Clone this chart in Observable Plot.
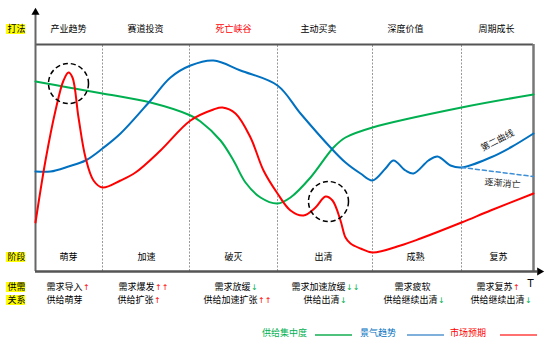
<!DOCTYPE html>
<html><head><meta charset="utf-8">
<script src="https://cdn.jsdelivr.net/npm/d3@7"></script>
<script src="https://cdn.jsdelivr.net/npm/@observablehq/plot@0.6"></script>
<style>
body{margin:0;background:#fff;font-family:"Noto Sans CJK SC",sans-serif;}
#legend{position:relative;width:550px;height:26px;font-size:9px;}
#legend span{position:absolute;top:7px;line-height:12px;}
#legend i{position:absolute;top:14px;height:2px;display:block;}
</style></head>
<body>
<div id="chart"></div>
<div id="legend"></div>
<script>
// time index (t) and index value (v)
const greenT = [0,33,67,115,155,165,185,198,210,225,242,255,275,298,310,337,426,498];
const greenV = [190,184,178,169,156,150,131,111,89,74,68,74,94,124,134,144,164,177];
const blueT = [0,15,33,50,67,85,115,135,155,178,205,242,265,295,310,325,337,350,358,370,378,393,402,415,426,455,475,498];
const blueV = [100,100,105,111,123,138,171,194,206,211,201,186,158,124,109,98,91,103,111,101,98,111,115,106,104,114,124,138];
const fadeT = [426,498];
const fadeV = [104,95];
const redT = [0,10,20,28,33,37,43,50,58,67,85,100,125,155,178,187,200,215,228,242,255,268,280,290,297,305,310,315,325,337,365,385,426,455,498];
const redV = [49,111,161,191,199,194,154,114,91,84,91,99,121,151,162,164,158,134,101,78,61,56,64,75,71,51,34,28,23,19,26,33,49,61,78];

const dividers = [67,154,242,337,426];
const topLabels = ["产业趋势","赛道投资","死亡峡谷","主动买卖","深度价值","周期成长"];
const topX = [33,110,198,283,370,461];
const stageLabels = ["萌芽","加速","破灭","出清","成熟","复苏"];
const stageX = [33,111,198,288,380,463];
const demandLabels = ["需求导入","需求爆发","需求放缓","需求加速放缓","需求疲软","需求复苏"];
const demandEnd = [47,119,215,310,395,477];
const demandArrows = ["↑","↑↑","↓","↓↓","","↑"];
const supplyLabels = ["供给萌芽","供给扩张","供给加速扩张","供给出清","供给继续出清","供给继续出清"];
const supplyEnd = [47,118,222,304,402,489];
const supplyArrows = ["","↑","↑↑","↓","↓","↓"];
const sideLabels = ["打法","阶段","供需","关系"];
const sideV = [242,14,-16,-29];
const circleT = [33,293];
const circleV = [188,70];

const green = "#00b050", blue = "#0070c0", red = "#ff0000";
const font = "Noto Sans CJK SC";
const pts = (T,V) => T.map((t,i)=>({t, v:V[i]}));
const arrowColor = a => a.includes("↑") ? red : green;

const chart = Plot.plot({
  width: 550, height: 320,
  x: {domain:[0,498], range:[35,533]},
  y: {domain:[0,227], range:[271,44]},
  axis: null,
  style: {fontFamily: font, background:"#fff"},
  marks: [
    Plot.ruleX(dividers, {y1:0, y2:227, stroke:"#999", strokeDasharray:"2,1.5", strokeWidth:1}),
    Plot.rect(sideLabels, {x1:-29, x2:-10, y1:(d,i)=>sideV[i]-5, y2:(d,i)=>sideV[i]+5, fill:"#ffff00"}),
    Plot.ruleY([227], {x1:0, x2:498, stroke:"#555", strokeWidth:2}),
    Plot.ruleX([498], {y1:0, y2:227, stroke:"#777", strokeWidth:2.5}),
    Plot.ruleX([0], {y1:0, y2:258, stroke:"#666", strokeWidth:2}),
    Plot.dot([0], {x:0, y:259, symbol:"triangle", fill:"#000", r:3}),
    Plot.ruleY([0], {x1:0, x2:502, stroke:"#555", strokeWidth:2.5}),
    Plot.dot([0], {x:504, y:0, symbol:"triangle", fill:"#000", r:3, rotate:90}),
    Plot.line(pts(greenT,greenV), {x:"t", y:"v", stroke:green, strokeWidth:2, curve:"catmull-rom"}),
    Plot.line(pts(blueT,blueV), {x:"t", y:"v", stroke:blue, strokeWidth:2, curve:"catmull-rom"}),
    Plot.line(pts(fadeT,fadeV), {x:"t", y:"v", stroke:"#3c8fd6", strokeWidth:1.5, strokeDasharray:"4,3"}),
    Plot.line(pts(redT,redV), {x:"t", y:"v", stroke:red, strokeWidth:2, curve:"catmull-rom"}),
    Plot.dot(circleT, {x:d=>d, y:(d,i)=>circleV[i], r:20, stroke:"#000", strokeWidth:1.5, strokeDasharray:"5,3", fill:"none"}),
    Plot.text(topLabels, {x:(d,i)=>topX[i], y:242, text:d=>d, fontSize:9,
      fill:d=>d==="死亡峡谷"?red:"#000", fontWeight:d=>d==="死亡峡谷"?"bold":"normal"}),
    Plot.text(stageLabels, {x:(d,i)=>stageX[i], y:14, text:d=>d, fontSize:9, fill:"#000"}),
    Plot.text(sideLabels, {x:-19, y:(d,i)=>sideV[i], text:d=>d, fontSize:9, fill:"#000"}),
    Plot.text(demandLabels, {x:(d,i)=>demandEnd[i], y:-16, text:d=>d, fontSize:9, textAnchor:"end", fill:"#000"}),
    Plot.text(demandArrows, {x:(d,i)=>demandEnd[i]+0.5, y:-16, text:d=>d, fontSize:8, textAnchor:"start", fill:arrowColor, fontFamily:"DejaVu Sans"}),
    Plot.text(supplyLabels, {x:(d,i)=>supplyEnd[i], y:-29, text:d=>d, fontSize:9, textAnchor:"end", fill:"#000"}),
    Plot.text(supplyArrows, {x:(d,i)=>supplyEnd[i]+0.5, y:-29, text:d=>d, fontSize:8, textAnchor:"start", fill:arrowColor, fontFamily:"DejaVu Sans"}),
    Plot.text(["T"], {x:495, y:-12, text:d=>d, fontSize:10, fill:"#000", fontFamily:"DejaVu Sans"}),
    Plot.text(["第二曲线"], {x:462, y:131, text:d=>d, fontSize:9, rotate:-27, fill:"#222"}),
    Plot.text(["逐渐消亡"], {x:467, y:88, text:d=>d, fontSize:9, rotate:5, fill:"#222"})
  ]
});
document.getElementById("chart").appendChild(chart);

const legendItems = ["供给集中度","景气趋势","市场预期"];
const legendText = [green, blue, red];
const legendLine = ["#4fc27d","#7fb0dc","#ff7070"];
const legendTextX = [262,360,450];
const legendLineX = [315,407,500];
const lg = document.getElementById("legend");
legendItems.forEach((name,i)=>{
  const s = document.createElement("span");
  s.textContent = name; s.style.left = legendTextX[i]+"px"; s.style.color = legendText[i];
  lg.appendChild(s);
  const l = document.createElement("i");
  l.style.left = legendLineX[i]+"px"; l.style.width = "37px"; l.style.background = legendLine[i];
  lg.appendChild(l);
});
</script>
</body></html>
